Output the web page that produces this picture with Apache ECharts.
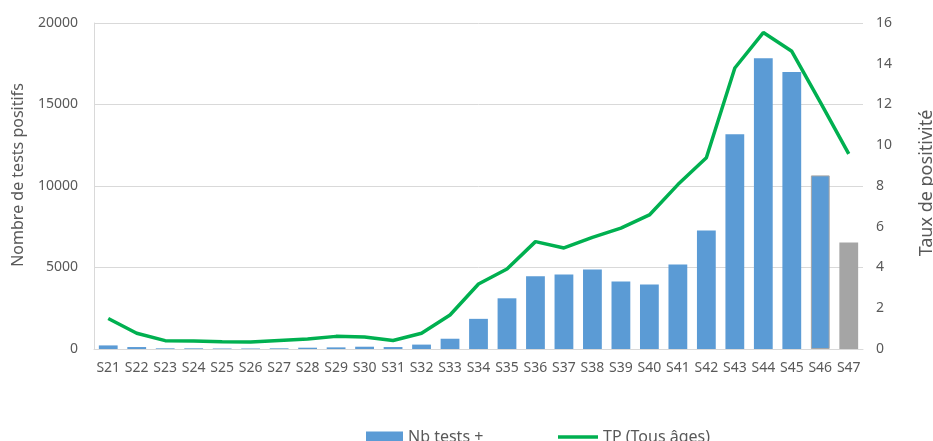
<!DOCTYPE html>
<html>
<head>
<meta charset="utf-8">
<script src="https://cdn.jsdelivr.net/npm/echarts@6/dist/echarts.min.js"></script>
<style>
  html, body { margin: 0; padding: 0; background: #fff; }
  #chart { width: 933px; height: 441px; }
</style>
</head>
<body>
<div id="chart"></div>
<script>
// weeks S21..S47
const weeks = ['S21', 'S22', 'S23', 'S24', 'S25', 'S26', 'S27', 'S28', 'S29', 'S30', 'S31', 'S32', 'S33', 'S34',
  'S35', 'S36', 'S37', 'S38', 'S39', 'S40', 'S41', 'S42', 'S43', 'S44', 'S45', 'S46', 'S47'];
const positiveTests = [220, 120, 40, 40, 30, 30, 40, 80, 100, 140, 120, 270, 630, 1850,
  3110, 4460, 4570, 4870, 4140, 3950, 5180, 7270, 13170, 17830, 16990, 10650, 6530];
const positivityRate = [1.50, 0.77, 0.41, 0.39, 0.36, 0.34, 0.42, 0.49, 0.62, 0.59, 0.42, 0.77, 1.67, 3.19,
  3.93, 5.27, 4.96, 5.48, 5.93, 6.58, 8.07, 9.39, 13.79, 15.53, 14.61, 12.12, 9.58];
const leftTicks = [0, 5000, 10000, 15000, 20000];
const rightTicks = [0, 2, 4, 6, 8, 10, 12, 14, 16];

const font = 'Noto Sans';
const txt = '#595959';

// last week is partial (grey), the one before has a grey outline
const barData = positiveTests.map((v, i) => {
  if (i === positiveTests.length - 1) return { value: v, itemStyle: { color: '#A5A5A5' } };
  if (i === positiveTests.length - 2) return { value: v, itemStyle: { borderColor: '#A5A5A5', borderWidth: 1 } };
  return v;
});

const chart = echarts.init(document.getElementById('chart'));
chart.setOption({
  animation: false,
  textStyle: { fontFamily: font },
  grid: { left: 94, right: 70, top: 23, bottom: 92, containLabel: false },
  legend: [
    {
      left: 361, top: 424,
      itemWidth: 37, itemHeight: 11,
      textStyle: { fontFamily: font, fontSize: 16, color: txt },
      data: [{ name: 'Nb tests +', icon: 'rect' }]
    },
    {
      left: 553, top: 424,
      itemWidth: 40, itemHeight: 3.5,
      textStyle: { fontFamily: font, fontSize: 16, color: txt },
      data: [{ name: 'TP (Tous âges)', icon: 'rect' }]
    }
  ],
  graphic: [
    {
      type: 'text', x: 18, y: 175, rotation: Math.PI / 2,
      style: { text: 'Nombre de tests positifs', fill: txt, font: '16px "Noto Sans"', align: 'center', verticalAlign: 'middle' }
    },
    {
      type: 'text', x: 927, y: 183, rotation: Math.PI / 2,
      style: { text: 'Taux de positivité', fill: txt, font: '18px "Noto Sans"', align: 'center', verticalAlign: 'middle' }
    }
  ],
  xAxis: {
    type: 'category',
    data: weeks,
    axisTick: { show: false },
    axisLine: { lineStyle: { color: '#D9D9D9', width: 1 } },
    axisLabel: { color: txt, fontSize: 14, fontFamily: font, margin: 12, interval: 0 }
  },
  yAxis: [
    {
      type: 'value', min: leftTicks[0], max: leftTicks[leftTicks.length - 1], interval: leftTicks[1] - leftTicks[0],
      axisLine: { show: true, lineStyle: { color: '#D9D9D9' } },
      axisTick: { show: false },
      axisLabel: { color: txt, fontSize: 14, fontFamily: font, margin: 16, formatter: v => String(v) },
      splitLine: { lineStyle: { color: '#D9D9D9', width: 1 } }
    },
    {
      type: 'value', min: rightTicks[0], max: rightTicks[rightTicks.length - 1], interval: rightTicks[1] - rightTicks[0],
      axisLine: { show: false },
      axisTick: { show: false },
      axisLabel: { color: txt, fontSize: 14, fontFamily: font, margin: 13 },
      splitLine: { show: false }
    }
  ],
  series: [
    {
      name: 'Nb tests +', type: 'bar', data: barData,
      barCategoryGap: '34%',
      itemStyle: { color: '#5B9BD5' }
    },
    {
      name: 'TP (Tous âges)', type: 'line', yAxisIndex: 1, data: positivityRate,
      symbol: 'none',
      lineStyle: { color: '#00B050', width: 3.5 },
      itemStyle: { color: '#00B050' }
    }
  ]
});
</script>
</body>
</html>
